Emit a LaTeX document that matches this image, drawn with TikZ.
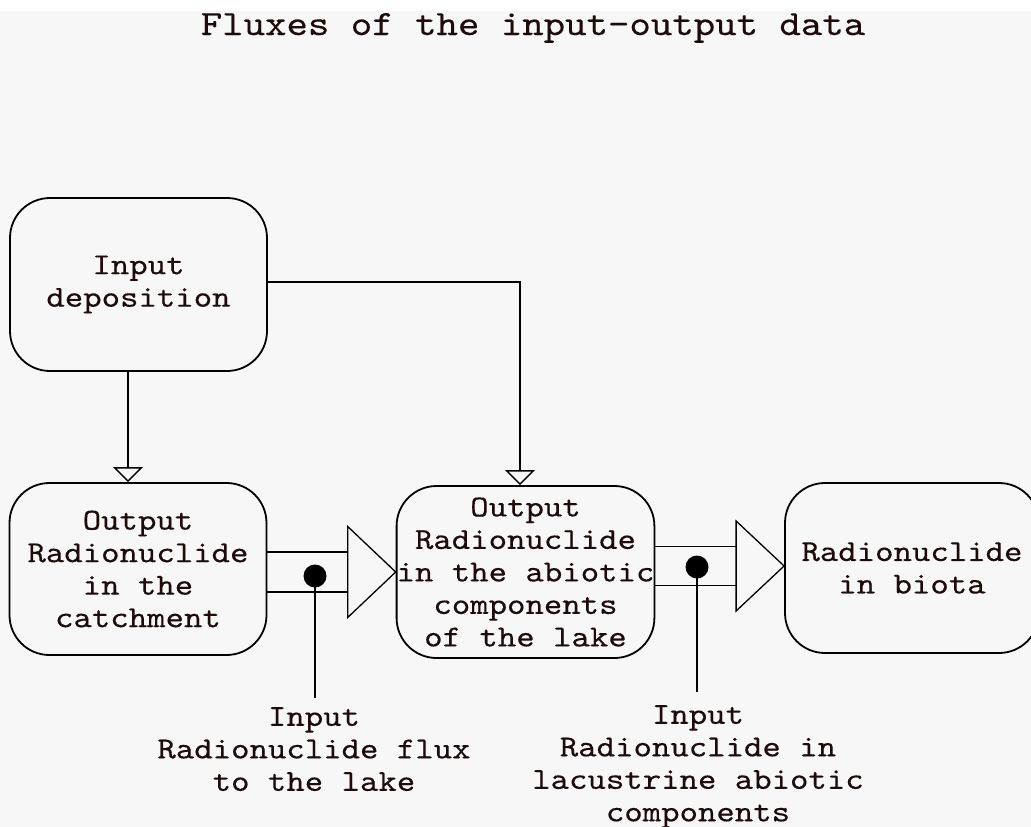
\documentclass[tikz,border=0pt]{standalone}
\usepackage{fontspec}
\newfontfamily\diagfont{lmmono10-regular.otf}[FakeStretch=1.15, FakeBold=0.3]
\usetikzlibrary{arrows.meta,calc}
\definecolor{paper}{HTML}{F7F7F7}
\definecolor{ink}{HTML}{1E0C0C}
\newcommand{\boxfont}{\diagfont\fontsize{30.5}{32.5}\selectfont}
\newcommand{\titlefont}{\diagfont\fontsize{35.5}{38}\selectfont}

\tikzset{
  stage/.style={draw, line width=1.8pt, rounded corners=40pt,
    minimum width=257pt, minimum height=172pt, inner sep=0pt,
    align=center, font=\boxfont, text=ink},
  caption/.style={align=center, font=\boxfont, text=ink, inner sep=0pt, anchor=north},
  feed/.style={line width=1.8pt, -{Triangle[open, length=15pt, width=30pt, line width=1.4pt]}},
  pipe/.style={line width=1.8pt},
  head/.style={line width=1.3pt, line join=miter},
  junction/.style={circle, fill=black, inner sep=0pt, minimum size=23pt},
  stem/.style={line width=1.8pt}
}

\begin{document}
\begin{tikzpicture}[x=1pt, y=-1pt]
  % page and background
  \useasboundingbox (0,0) rectangle (1031,827);
  \fill[white] (0,0) rectangle (1031,11);
  \fill[paper] (0,11) rectangle (1031,827);

  \node[font=\titlefont, text=ink, anchor=base] (title) at (533,35) {Fluxes of the input-output data};

  % stages
  \node[stage, minimum height=173pt] (dep) at (138.5,284.5) {Input\\deposition};
  \node[stage] (catch) at (138,569) {Output\\Radionuclide\\in the\\catchment};
  \node[stage] (lake) at (525.5,572) {Output\\Radionuclide\\in the abiotic\\components\\of the lake};
  \node[stage, minimum width=254pt, minimum height=170pt] (biota) at (912,568) {Radionuclide\\in biota};

  % deposition feeds
  \draw[feed] ([xshift=-10.5pt]dep.south) -- ([xshift=-10pt]catch.north);
  \draw[feed] ([yshift=2.5pt]dep.east) -| ([xshift=-5.5pt]lake.north);

  % flux pipe: catchment -> lake
  \coordinate (b1) at ($(lake.west)+(-48,0)$);
  \coordinate (u1) at ($(b1)+(0,-20)$);
  \coordinate (l1) at ($(b1)+(0,20)$);
  \draw[pipe] (u1 -| catch.east) -- (u1);
  \draw[pipe] (l1 -| catch.east) -- (l1);
  \draw[head] ($(b1)+(0,-45.5)$) -- (lake.west) -- ($(b1)+(0,45.5)$) -- cycle;

  % flux pipe: lake -> biota
  \coordinate (b2) at ($(biota.west)+(-48,-2)$);
  \coordinate (u2) at ($(b2)+(0,-19.5)$);
  \coordinate (l2) at ($(b2)+(0,19.5)$);
  \draw[pipe] (u2 -| lake.east) -- (u2);
  \draw[pipe] (l2 -| lake.east) -- (l2);
  \draw[head] ($(b2)+(0,-45)$) -- ($(biota.west)+(0,-2)$) -- ($(b2)+(0,45)$) -- cycle;

  % input taps
  \node[junction] (j1) at (315,576) {};
  \node[junction] (j2) at (697,567) {};

  \node[caption] (in1) at (314,707) {Input\\Radionuclide flux\\to the lake};
  \node[caption] (in2) at (698,705) {Input\\Radionuclide in\\lacustrine abiotic\\components};

  \draw[stem, shorten >=9pt] (j1.center) -- (j1.center |- in1.north);
  \draw[stem, shorten >=13pt] (j2.center) -- (j2.center |- in2.north);
\end{tikzpicture}
\end{document}
